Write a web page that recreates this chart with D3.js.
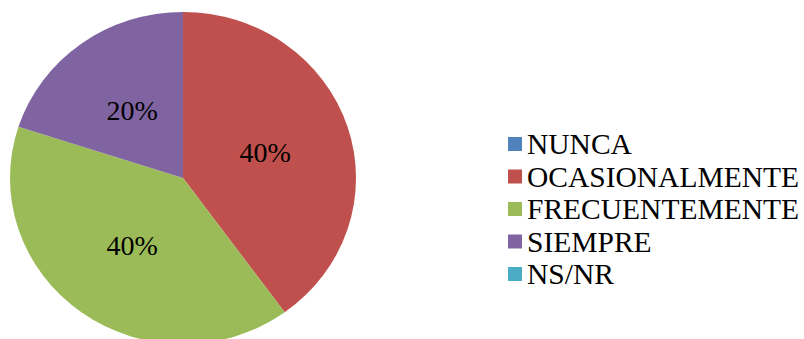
<!DOCTYPE html>
<html>
<head>
<meta charset="utf-8">
<script src="https://cdn.jsdelivr.net/npm/d3@7"></script>
<style>
  html, body { margin: 0; padding: 0; background: #fff; }
  svg { display: block; font-family: "Liberation Serif", "Times New Roman", serif; }
</style>
</head>
<body>
<svg id="chart" width="804" height="339"></svg>
<script>
const categories = ["NUNCA", "OCASIONALMENTE", "FRECUENTEMENTE", "SIEMPRE", "NS/NR"];
const values = [0, 40, 40, 20, 0];
const colors = ["#4F81BD", "#C0504D", "#9BBB59", "#8064A2", "#4BACC6"];

const svg = d3.select("#chart");
svg.append("rect").attr("width", 804).attr("height", 339).attr("fill", "#fff");

const cx = 183, cy = 178, rx = 173, ry = 166;
const data = categories.map((c, i) => ({ cat: c, value: values[i], color: colors[i] }));

const pie = d3.pie().value(d => d.value).sort(null);
const arcs = pie(data);
const arc = d3.arc().innerRadius(0).outerRadius(rx);

const g = svg.append("g").attr("transform", `translate(${cx},${cy})`);
const ge = g.append("g").attr("transform", `scale(1,${ry / rx})`);
ge.selectAll("path")
  .data(arcs.filter(a => a.data.value > 0))
  .join("path")
  .attr("d", arc)
  .attr("fill", d => d.data.color);

const total = d3.sum(values);
const lbls = arcs.filter(a => a.data.value > 0);
lbls.forEach(d => {
  const [x, y] = arc.centroid(d);
  g.append("text")
    .attr("x", x)
    .attr("y", y * ry / rx + 9.5)
    .attr("text-anchor", "middle")
    .attr("font-family", "Liberation Serif")
    .attr("font-size", 28)
    .attr("fill", "#000")
    .text(d3.format(".0%")(d.data.value / total));
});

const ly = d3.scalePoint().domain(categories).range([144, 274]);
data.forEach(d => {
  svg.append("rect")
    .attr("x", 508).attr("y", ly(d.cat) - 7).attr("width", 14).attr("height", 14)
    .attr("fill", d.color);
  svg.append("text")
    .attr("x", 527).attr("y", ly(d.cat) + 10)
    .attr("font-family", "Liberation Serif")
    .attr("font-size", 29.5)
    .attr("fill", "#000")
    .text(d.cat);
});
</script>
</body>
</html>
